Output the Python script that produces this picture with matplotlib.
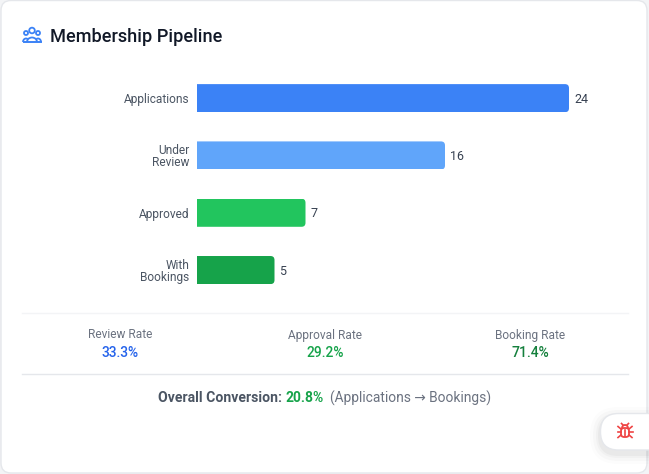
"""
plot.py - Membership pipeline card: horizontal funnel bars with rate summary.
"""

import matplotlib
matplotlib.use("Agg")
import matplotlib.pyplot as plt
from matplotlib.patches import Arc, Circle, FancyBboxPatch
from matplotlib.transforms import IdentityTransform

plt.rcParams['font.family'] = ['Roboto', 'DejaVu Sans']

stages = ["Applications", "Under\nReview", "Approved", "With\nBookings"]
counts = [24, 16, 7, 5]
bar_colors = ["#3b82f6", "#60a5fa", "#22c55e", "#16a34a"]

rate_names = ["Review Rate", "Approval Rate", "Booking Rate"]
rate_values = ["33.3%", "29.2%", "71.4%"]
rate_colors = ["#2563eb", "#16a34a", "#15803d"]

W, H = 649, 474


def rounded(x0, y0, x1, y1, r, **kw):
    return FancyBboxPatch((x0 + r, y0 + r), x1 - x0 - 2 * r, y1 - y0 - 2 * r,
                          boxstyle=f"round,pad={r},rounding_size={r}", **kw)


def draw_users_icon(ax, color="#3b82f6"):
    # group of three people next to the title
    for cx, cy, rad in [(32, 30.5, 2.8), (26, 33, 2.0), (38, 33, 2.0)]:
        ax.add_patch(Circle((cx, cy), rad, fill=False, ec=color, lw=1.3))
    ax.add_patch(Arc((32, 42), 10, 9, theta1=180, theta2=360, ec=color, lw=1.3))
    ax.add_patch(Arc((26, 42), 6, 7, theta1=180, theta2=300, ec=color, lw=1.3))
    ax.add_patch(Arc((38, 42), 6, 7, theta1=240, theta2=360, ec=color, lw=1.3))
    ax.plot([23.5, 40.5], [42, 42], color=color, lw=1.4)


def draw_bug_icon(ax, cx, cy, color="#ef4444"):
    ax.add_patch(rounded(cx - 4, cy - 3, cx + 4, cy + 6, 3.2, fill=False, ec=color, lw=1.3))
    ax.add_patch(Arc((cx, cy - 3), 6, 6, theta1=180, theta2=360, ec=color, lw=1.3))
    ax.plot([cx, cx], [cy - 1, cy + 5], color=color, lw=1.2)
    for sign in (-1, 1):
        ax.plot([cx + sign * 4, cx + sign * 7], [cy - 2, cy - 4.5], color=color, lw=1.2)
        ax.plot([cx + sign * 4, cx + sign * 7.5], [cy + 1, cy + 1], color=color, lw=1.2)
        ax.plot([cx + sign * 4, cx + sign * 7], [cy + 4, cy + 6.5], color=color, lw=1.2)
        ax.plot([cx + sign * 2, cx + sign * 3.5], [cy - 6, cy - 7.5], color=color, lw=1.2)


def main():
    fig = plt.figure(figsize=(W / 100, H / 100), dpi=100, facecolor="#f3f4f6")

    # full-size layer in pixel units for the card and its text
    bg = fig.add_axes([0, 0, 1, 1])
    bg.set_xlim(0, W)
    bg.set_ylim(H, 0)
    bg.axis("off")

    bg.add_patch(rounded(1, 0.5, 647, 473, 10, fc="white", ec="#e5e7eb", lw=1))

    draw_users_icon(bg)
    bg.text(50, 37, "Membership Pipeline", fontsize=13.1, weight="medium",
            color="#111827", va="center", ha="left")

    # divider lines
    bg.plot([22, 628], [312.7, 312.7], color="#f3f4f6", lw=1)
    bg.plot([22, 628], [373.7, 373.7], color="#e5e7eb", lw=1)

    # rate summary row
    for name, val, col, xc in zip(rate_names, rate_values, rate_colors, [120, 325, 530]):
        bg.text(xc, 335, name, fontsize=8.6, color="#6b7280", ha="center", va="center")
        bg.text(xc, 353, val, fontsize=10, weight="medium", color=col, ha="center", va="center")

    # overall conversion line, pieced together left to right
    y = 398
    bg.text(158.5, y, "Overall Conversion:", fontsize=10.1, weight="bold",
            color="#4b5563", va="center")
    bg.text(285.5, y, "20.8%", fontsize=10, weight="bold",
            color="#16a34a", va="center")
    bg.text(330, y, "(Applications \u2192 Bookings)", fontsize=9.9,
            color="#6b7280", va="center")

    # floating report button at the lower right edge
    for grow, alpha in [(10, 0.012), (7, 0.018), (4, 0.025), (2, 0.03)]:
        bg.add_patch(rounded(600 - grow, 413 - grow + 4, 680 + grow, 450 + grow + 4, 18 + grow,
                             fc="black", ec="none", alpha=alpha))
    bg.add_patch(rounded(600.5, 413.5, 680, 450, 18, fc="white", ec="#e5e7eb", lw=1))
    draw_bug_icon(bg, 625, 431)

    # funnel bars
    ax = fig.add_axes([197 / W, 1 - 298.7 / H, 372 / W, 229.2 / H])
    ax.patch.set_alpha(0)
    positions = range(len(stages))
    bars = ax.barh(positions, counts, height=0.49, color=bar_colors)
    ax.set_xlim(0, 24)
    ax.set_ylim(3.5, -0.5)
    ax.set_xticks([])
    ax.set_yticks(list(positions))
    ax.set_yticklabels(stages, fontsize=8.6, color="#4b5563", linespacing=0.95)
    ax.tick_params(axis='y', length=0, pad=5.5)
    for spine in ax.spines.values():
        spine.set_visible(False)

    # round the right-hand corners of each bar, measured in display pixels
    for bar, count, i in zip(bars, counts, positions):
        (x0, y0), (x1, y1) = ax.transData.transform(
            [(bar.get_x(), bar.get_y() + bar.get_height()),
             (bar.get_x() + bar.get_width(), bar.get_y())])
        clip = rounded(x0 - 10, y0, x1, y1, 4, transform=IdentityTransform())
        bar.set_clip_path(clip)
        ax.annotate(str(count), xy=(count, i), xytext=(5, -1), textcoords="offset pixels",
                    fontsize=9, color="#374151", va="center", ha="left")

    fig.savefig("out.png", dpi=100, facecolor=fig.get_facecolor())
    plt.close(fig)


if __name__ == "__main__":
    main()
